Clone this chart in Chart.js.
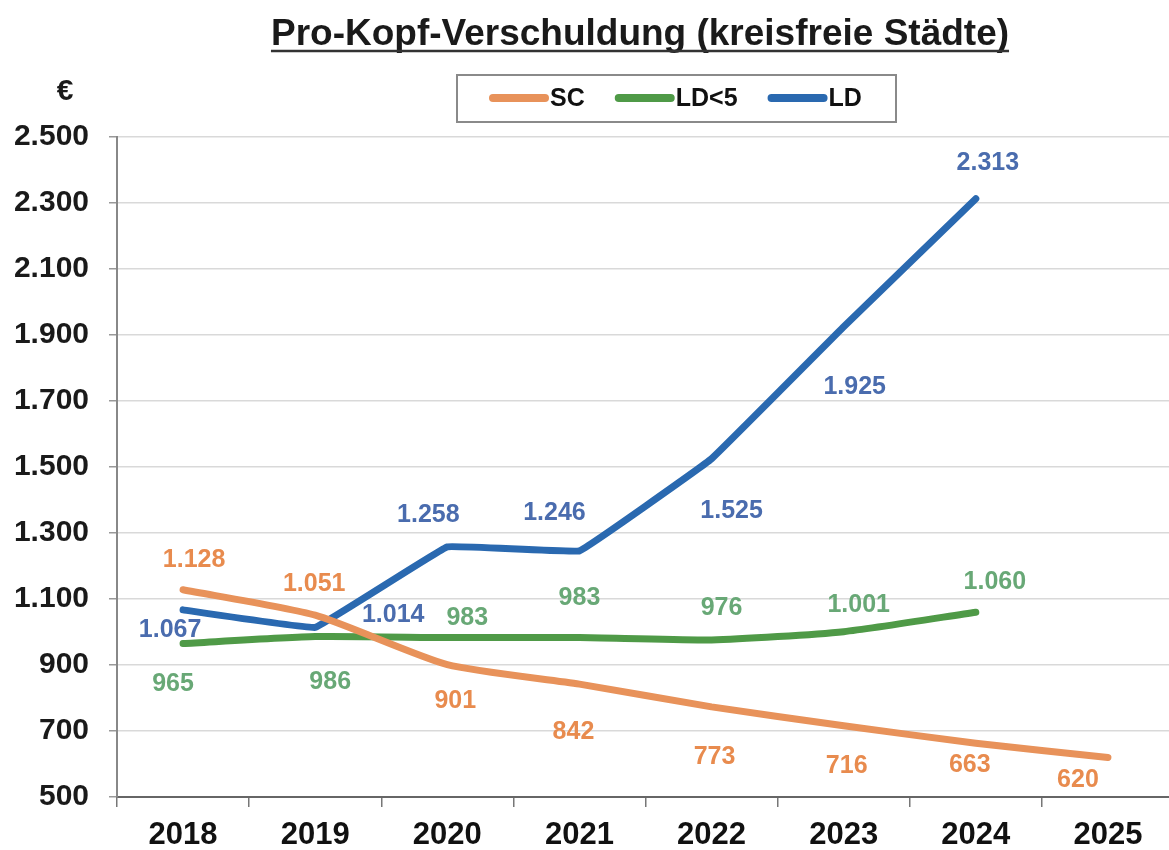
<!DOCTYPE html>
<html>
<head>
<meta charset="utf-8">
<title>Pro-Kopf-Verschuldung (kreisfreie Städte)</title>
<script src="https://cdn.jsdelivr.net/npm/chart.js@4/dist/chart.umd.min.js"></script>
<style>
    html, body { margin: 0; padding: 0; background: #fff; overflow: hidden; }
    #wrap { width: 1174px; height: 850px; }
</style>
</head>
<body>
<div id="wrap"><canvas id="myChart" width="1174" height="850"></canvas></div>
<script>
const years = ['2018', '2019', '2020', '2021', '2022', '2023', '2024', '2025'];
const scValues = [1128, 1051, 901, 842, 773, 716, 663, 620];
const ldLess5Values = [965, 986, 983, 983, 976, 1001, 1060, null];
const ldValues = [1067, 1014, 1258, 1246, 1525, 1925, 2313, null];
const yTicks = [500, 700, 900, 1100, 1300, 1500, 1700, 1900, 2100, 2300, 2500];

// where each value label sits relative to its point (dx, dy in px)
const scLabelOffsets = [[11, -30], [-1, -31], [8, 36], [-6, 48], [3, 50], [3, 40], [-6, 22], [-30, 23]];
const ldLess5LabelOffsets = [[-10, 41], [15, 45], [20, -20], [0, -40], [10, -32], [15, -27], [19, -30]];
const ldLabelOffsets = [[-13, 20], [78, -12], [-19, -32], [-25, -38], [20, 52], [11, 60], [12, -36]];

function fmt(v) {
    return String(v).replace(/\B(?=(\d{3})+(?!\d))/g, '.');
}

const labelFont = 'bold 25px "Liberation Sans", Arial, sans-serif';

// value labels, title, euro sign and the boxed legend
const decorPlugin = {
    id: 'decor',
    afterDatasetsDraw(chart) {
        const ctx = chart.ctx;
        ctx.save();
        ctx.font = labelFont;
        ctx.textAlign = 'center';
        ctx.textBaseline = 'middle';
        chart.data.datasets.forEach((ds, i) => {
            const meta = chart.getDatasetMeta(i);
            meta.data.forEach((pt, j) => {
                const v = ds.data[j];
                if (v === null || v === undefined) return;
                const off = ds.labelOffsets[j] || [0, -20];
                ctx.fillStyle = ds.labelColor;
                ctx.fillText(fmt(v), pt.x + off[0], pt.y + off[1]);
            });
        });
        ctx.restore();
    },
    afterDraw(chart) {
        const ctx = chart.ctx;
        ctx.save();

        // title with underline
        const title = 'Pro-Kopf-Verschuldung (kreisfreie Städte)';
        ctx.font = 'bold 37px "Liberation Sans", Arial, sans-serif';
        ctx.fillStyle = '#1a1a1a';
        ctx.textAlign = 'center';
        ctx.textBaseline = 'alphabetic';
        ctx.fillText(title, 640, 45);
        const tw = ctx.measureText(title).width;
        ctx.strokeStyle = '#333';
        ctx.lineWidth = 2.5;
        ctx.beginPath();
        ctx.moveTo(640 - tw / 2, 51);
        ctx.lineTo(640 + tw / 2, 51);
        ctx.stroke();

        // euro sign above the y axis
        ctx.font = 'bold 30px "Liberation Sans", Arial, sans-serif';
        ctx.textBaseline = 'middle';
        ctx.fillText('€', 65, 92);

        // legend box
        ctx.strokeStyle = '#8a8a8a';
        ctx.lineWidth = 2;
        ctx.strokeRect(457, 75, 439, 47);
        ctx.font = 'bold 25px "Liberation Sans", Arial, sans-serif';
        ctx.textAlign = 'left';
        let x = 489;
        chart.data.datasets.forEach(ds => {
            ctx.strokeStyle = ds.borderColor;
            ctx.lineWidth = 8;
            ctx.lineCap = 'round';
            ctx.beginPath();
            ctx.moveTo(x + 4, 98);
            ctx.lineTo(x + 56, 98);
            ctx.stroke();
            ctx.fillStyle = '#111';
            ctx.fillText(ds.label, x + 61, 99);
            x += 61 + ctx.measureText(ds.label).width + 30;
        });
        ctx.restore();
    }
};

const ctx = document.getElementById('myChart').getContext('2d');

new Chart(ctx, {
    type: 'line',
    data: {
        labels: years,
        datasets: [
            {
                label: 'SC',
                data: scValues,
                borderColor: '#e8925a',
                labelColor: '#e88b4e',
                labelOffsets: scLabelOffsets,
                tension: 0.2
            },
            {
                label: 'LD<5',
                data: ldLess5Values,
                borderColor: '#4f9a47',
                labelColor: '#68a876',
                labelOffsets: ldLess5LabelOffsets,
                tension: 0.2
            },
            {
                label: 'LD',
                data: ldValues,
                borderColor: '#2a69b0',
                labelColor: '#4a6cae',
                labelOffsets: ldLabelOffsets,
                tension: 0.05
            }
        ]
    },
    options: {
        responsive: false,
        animation: false,
        layout: { padding: { top: 137, left: 0, right: 0, bottom: 0 } },
        elements: {
            line: { borderWidth: 7, borderCapStyle: 'round', borderJoinStyle: 'round', fill: false },
            point: { radius: 0, hoverRadius: 0 }
        },
        plugins: {
            legend: { display: false },
            title: { display: false },
            tooltip: { enabled: false }
        },
        scales: {
            x: {
                offset: true,
                grid: { offset: true, drawOnChartArea: false, tickLength: 10, color: '#777', lineWidth: 1.5 },
                border: { color: '#666', width: 2 },
                ticks: {
                    color: '#111',
                    padding: 10,
                    maxRotation: 0,
                    font: { family: '"Liberation Sans", Arial, sans-serif', weight: 'bold', size: 31 }
                },
                afterFit(scale) { scale.height = 53; }
            },
            y: {
                min: 500,
                max: 2500,
                afterBuildTicks(scale) { scale.ticks = yTicks.map(v => ({ value: v })); },
                grid: { color: '#d9d9d9', lineWidth: 1.5, tickLength: 8, tickColor: '#999' },
                border: { color: '#888', width: 2 },
                ticks: {
                    color: '#1a1a1a',
                    padding: 20,
                    font: { family: '"Liberation Sans", Arial, sans-serif', weight: 'bold', size: 30 },
                    callback: v => fmt(v)
                },
                afterFit(scale) { scale.width = 117; }
            }
        }
    },
    plugins: [decorPlugin]
});
</script>
</body>
</html>
